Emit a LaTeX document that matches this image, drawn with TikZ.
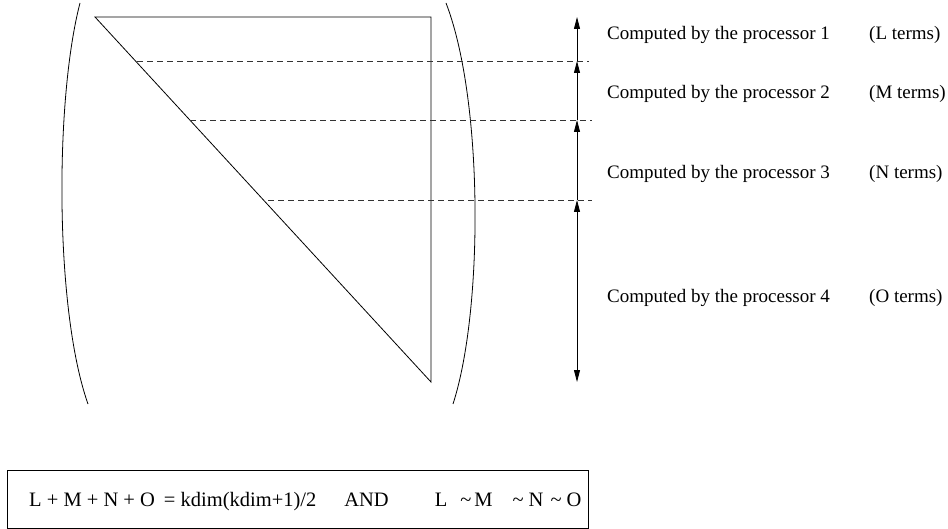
\documentclass[tikz,border=0pt]{standalone}
\usepackage{fontspec}
\setmainfont{Liberation Serif}
\usetikzlibrary{arrows.meta}
\tikzset{
  edge/.style={line width=0.8pt, black},
  sep/.style={line width=0.7pt, dash pattern=on 6pt off 4pt, black!80},
  arr/.style={line width=0.8pt, -{Triangle[length=12pt,width=6pt]}},
  lbl/.style={anchor=base west, inner sep=0pt, font=\fontsize{19}{22}\selectfont},
  eqlbl/.style={anchor=base west, inner sep=0pt, font=\fontsize{20.5}{24}\selectfont},
}
\newcommand{\tld}{{\char`\~}}
\begin{document}
\begin{tikzpicture}[x=1pt,y=-1pt]
\useasboundingbox (0,0) rectangle (948,529);
% matrix triangle
\coordinate (t1) at (95,17);
\coordinate (t2) at (431,17);
\coordinate (t3) at (431,382);
\draw[edge] (t1) -- (t2) -- (t3) -- cycle;
% parentheses
\coordinate (lp1) at (80,3);
\coordinate (lp2) at (88,404);
\coordinate (rp1) at (446,3);
\coordinate (rp2) at (453,404);
\draw[edge] (lp1) .. controls (54.7,100) and (54.7,310) .. (lp2);
\draw[edge] (rp1) .. controls (483.5,100) and (483.5,310) .. (rp2);
% dashed separators
\coordinate (d1s) at (137,61);  \coordinate (d1e) at (589,61);
\coordinate (d2s) at (190,120); \coordinate (d2e) at (592,120);
\coordinate (d3s) at (268,200); \coordinate (d3e) at (592,200);
\draw[sep] (d1s) -- (d1e);
\draw[sep] (d2s) -- (d2e);
\draw[sep] (d3s) -- (d3e);
% arrows
\coordinate (a0) at (577,17);
\coordinate (a1) at (577,61);
\coordinate (a2) at (577,120);
\coordinate (a3) at (577,200);
\coordinate (a4) at (577,382);
\draw[arr] (a1) -- (a0);
\draw[arr] (a2) -- (a1);
\draw[arr] (a3) -- (a2);
\draw[arr, {Triangle[length=12pt,width=6pt]}-{Triangle[length=12pt,width=6pt]}] (a3) -- (a4);
% labels
\node[lbl] (p1) at (607,40) {Computed by the processor 1};
\node[lbl] (p2) at (607,99) {Computed by the processor 2};
\node[lbl] (p3) at (607,179) {Computed by the processor 3};
\node[lbl] (p4) at (607,303) {Computed by the processor 4};
\node[lbl] (q1) at (869,40) {(L terms)};
\node[lbl] (q2) at (869,99) {(M terms)};
\node[lbl] (q3) at (869,179) {(N terms)};
\node[lbl] (q4) at (869,303) {(O terms)};
% bottom box
\node[draw, line width=1pt, minimum width=581pt, minimum height=58pt, inner sep=0pt] (box) at (297.5,499) {};
\node[eqlbl] (eq) at (29,506) {L + M + N + O\hspace{9pt}= kdim(kdim+1)/2\hspace{28pt}AND\hspace{46pt}L\hspace{13pt}\tld\hspace{3pt}M\hspace{20pt}\tld\hspace{5pt}N\hspace{7pt}\tld\hspace{5pt}O};
\end{tikzpicture}
\end{document}
